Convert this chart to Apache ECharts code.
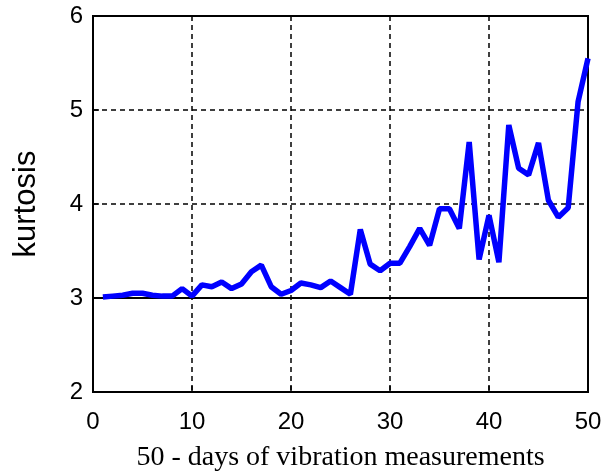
<!DOCTYPE html>
<html><head><meta charset="utf-8">
<script src="https://cdn.jsdelivr.net/npm/echarts@6/dist/echarts.min.js"></script>
<style>html,body{margin:0;padding:0;background:#fff}#c{width:605px;height:474px}</style>
</head><body><div id="c"></div>
<script>
const days = Array.from({length: 50}, (_, i) => i + 1);
const kurtosis = [3.01, 3.02, 3.03, 3.05, 3.05, 3.03, 3.02, 3.02, 3.10, 3.02,
  3.14, 3.12, 3.17, 3.10, 3.15, 3.28, 3.35, 3.12, 3.04, 3.08,
  3.16, 3.14, 3.11, 3.18, 3.11, 3.04, 3.73, 3.36, 3.29, 3.37,
  3.37, 3.55, 3.74, 3.56, 3.95, 3.95, 3.74, 4.66, 3.41, 3.88,
  3.38, 4.84, 4.38, 4.31, 4.65, 4.04, 3.86, 3.96, 5.09, 5.55];
const xTicks = [0, 10, 20, 30, 40, 50];
const yTicks = [2, 3, 4, 5, 6];
const xName = '50 - days of vibration measurements';
const yName = 'kurtosis';
const refLevel = 3;

const chart = echarts.init(document.getElementById('c'), null, {renderer: 'canvas'});
const dash = {color: '#000', width: 1.5, type: [5, 4]};
chart.setOption({
  animation: false,
  grid: {left: 93, right: 17, top: 16, bottom: 82, outerBoundsMode: 'none', containLabel: false,
    show: true, borderColor: '#000', borderWidth: 2, backgroundColor: 'transparent'},
  xAxis: {
    type: 'value', min: xTicks[0], max: xTicks[xTicks.length - 1], interval: 10,
    name: xName, nameLocation: 'middle', nameGap: 52,
    nameTextStyle: {fontFamily: 'Liberation Serif', fontSize: 28, color: '#000'},
    axisLine: {show: true, lineStyle: {color: '#000', width: 2}},
    axisTick: {show: true, inside: true, length: 6, lineStyle: {color: '#000', width: 1.5}},
    axisLabel: {fontFamily: 'Liberation Sans', fontSize: 24, color: '#000', margin: 18},
    splitLine: {show: true, lineStyle: dash}
  },
  yAxis: {
    type: 'value', min: yTicks[0], max: yTicks[yTicks.length - 1], interval: 1,
    name: yName, nameLocation: 'middle', nameGap: 51, nameRotate: 90,
    nameTextStyle: {fontFamily: 'Liberation Sans', fontSize: 31, color: '#000'},
    axisLine: {show: true, lineStyle: {color: '#000', width: 2}},
    axisTick: {show: true, inside: true, length: 6, lineStyle: {color: '#000', width: 1.5}},
    axisLabel: {fontFamily: 'Liberation Sans', fontSize: 24, color: '#000', margin: 10},
    splitLine: {show: true, lineStyle: dash}
  },
  series: [{
    type: 'line',
    data: days.map((d, i) => [d, kurtosis[i]]),
    showSymbol: false,
    lineStyle: {color: '#0000ff', width: 5.5},
    z: 5,
    markLine: {
      silent: true, symbol: 'none', label: {show: false},
      lineStyle: {color: '#000', width: 2, type: 'solid'},
      data: [{yAxis: refLevel}],
      z: 4
    }
  }]
});
</script></body></html>
